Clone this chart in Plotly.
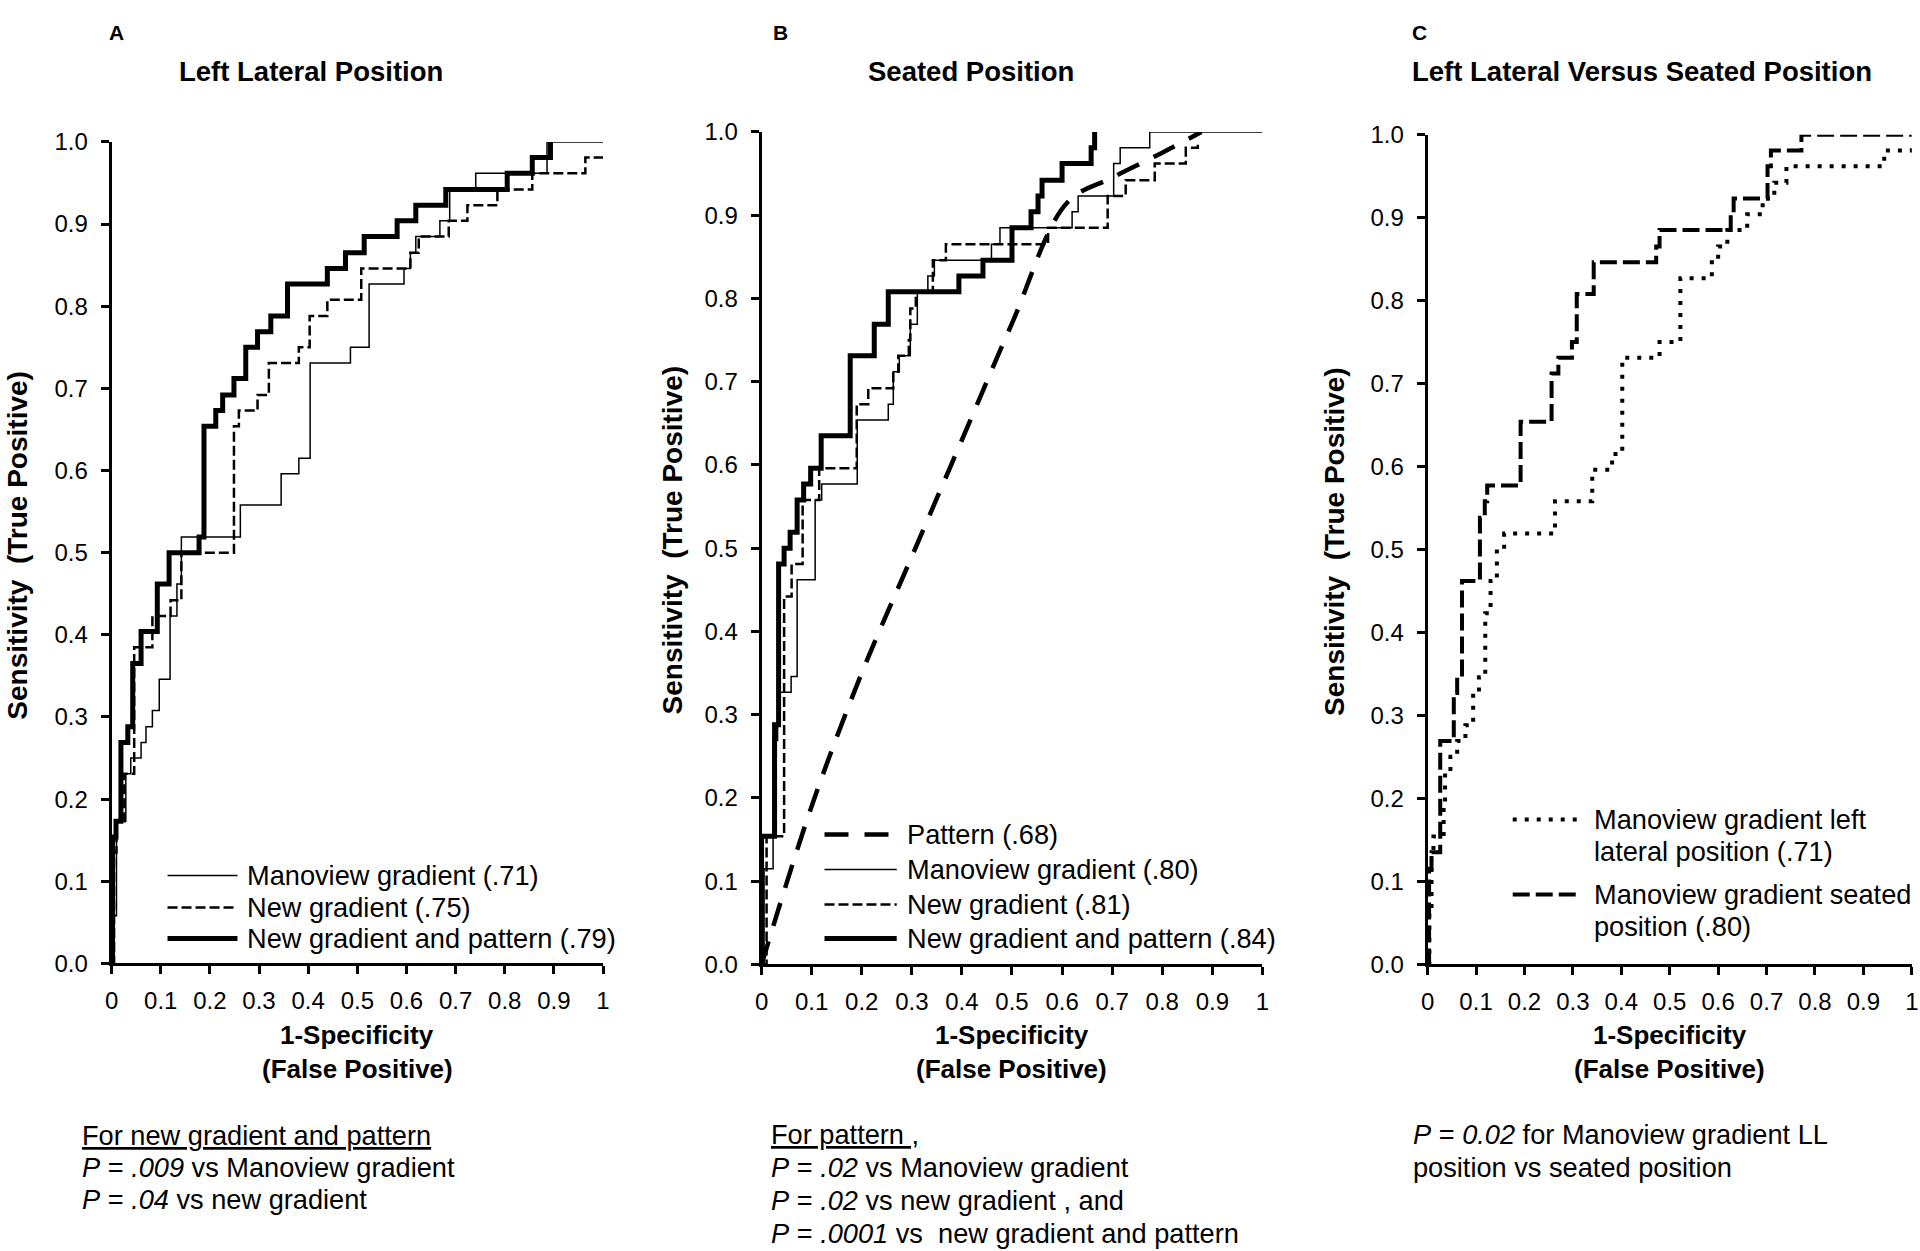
import plotly.graph_objects as go

FONT = "Liberation Sans, Arial, sans-serif"
W, H = 1920, 1251

# ---- tick labels ----
tick_vals = [0, 0.1, 0.2, 0.3, 0.4, 0.5, 0.6, 0.7, 0.8, 0.9, 1.0]
y_tick_text = ["0.0", "0.1", "0.2", "0.3", "0.4", "0.5", "0.6", "0.7", "0.8", "0.9", "1.0"]
x_tick_text = ["0", "0.1", "0.2", "0.3", "0.4", "0.5", "0.6", "0.7", "0.8", "0.9", "1"]

# ---- panel A: left lateral position (step ROC points, right-then-up) ----
a_mano_fpr = [0, 0.002, 0.01, 0.029, 0.039, 0.06, 0.07, 0.083, 0.097, 0.119, 0.133, 0.142,
              0.262, 0.345, 0.381, 0.404, 0.486, 0.524, 0.595, 0.608, 0.619, 0.668, 0.688,
              0.741, 0.886, 1.0]
a_mano_tpr = [0, 0.058, 0.173, 0.231, 0.25, 0.269, 0.288, 0.308, 0.346, 0.423, 0.462, 0.519,
              0.558, 0.596, 0.615, 0.731, 0.75, 0.827, 0.846, 0.865, 0.885, 0.904, 0.942,
              0.962, 1.0, 1.0]

a_new_fpr = [0, 0.005, 0.01, 0.026, 0.046, 0.083, 0.12, 0.142, 0.249, 0.259, 0.297, 0.32,
             0.381, 0.403, 0.439, 0.508, 0.608, 0.625, 0.686, 0.724, 0.785, 0.856, 0.964, 1.0]
a_new_tpr = [0, 0.135, 0.173, 0.231, 0.385, 0.423, 0.442, 0.5, 0.654, 0.673, 0.692, 0.731,
             0.75, 0.788, 0.808, 0.846, 0.865, 0.885, 0.904, 0.923, 0.942, 0.962, 0.981, 0.981]

a_combo_fpr = [0, 0.002, 0.009, 0.019, 0.033, 0.043, 0.06, 0.093, 0.117, 0.178, 0.188, 0.212,
               0.226, 0.249, 0.273, 0.297, 0.324, 0.358, 0.439, 0.476, 0.514, 0.581, 0.619,
               0.68, 0.805, 0.856, 0.893]
a_combo_tpr = [0, 0.154, 0.173, 0.269, 0.288, 0.365, 0.404, 0.462, 0.5, 0.519, 0.654, 0.673,
               0.692, 0.712, 0.75, 0.769, 0.788, 0.827, 0.846, 0.865, 0.885, 0.904, 0.923,
               0.942, 0.962, 0.981, 1.0]

# ---- panel B: seated position ----
b_pattern_fpr = [0, 0.1, 0.2, 0.3, 0.4, 0.5, 0.61, 0.7, 0.8, 0.878]
b_pattern_tpr = [0, 0.19, 0.35, 0.49, 0.63, 0.77, 0.915, 0.945, 0.975, 1.0]

b_mano_fpr = [0, 0.005, 0.023, 0.032, 0.059, 0.071, 0.107, 0.12, 0.191, 0.253, 0.263, 0.275,
              0.297, 0.311, 0.332, 0.345, 0.459, 0.476, 0.62, 0.632, 0.703, 0.716, 0.775, 1.0]
b_mano_tpr = [0, 0.115, 0.269, 0.327, 0.346, 0.462, 0.558, 0.577, 0.654, 0.673, 0.712, 0.731,
              0.769, 0.808, 0.827, 0.846, 0.865, 0.885, 0.904, 0.923, 0.962, 0.981, 1.0, 1.0]

b_new_fpr = [0, 0.01, 0.045, 0.06, 0.082, 0.115, 0.19, 0.213, 0.263, 0.273, 0.294, 0.297,
             0.308, 0.342, 0.368, 0.572, 0.691, 0.727, 0.785, 0.847, 0.871]
b_new_tpr = [0, 0.154, 0.442, 0.481, 0.558, 0.596, 0.673, 0.692, 0.712, 0.731, 0.75, 0.788,
             0.808, 0.846, 0.865, 0.885, 0.923, 0.942, 0.962, 0.981, 0.985]

b_combo_fpr = [0, 0, 0.026, 0.034, 0.045, 0.057, 0.071, 0.084, 0.098, 0.119, 0.177, 0.225,
               0.253, 0.394, 0.442, 0.5, 0.538, 0.552, 0.56, 0.6, 0.658, 0.665]
b_combo_tpr = [0, 0.154, 0.288, 0.481, 0.5, 0.519, 0.558, 0.577, 0.596, 0.635, 0.731, 0.769,
               0.808, 0.827, 0.846, 0.885, 0.904, 0.923, 0.942, 0.962, 0.981, 1.0]

# ---- panel C: left lateral vs seated (Manoview gradient) ----
c_ll_fpr = [0, 0.0035, 0.008, 0.012, 0.033, 0.036, 0.047, 0.061, 0.078, 0.094, 0.106, 0.119,
            0.13, 0.143, 0.158, 0.263, 0.34, 0.381, 0.402, 0.479, 0.522, 0.587, 0.6, 0.619,
            0.66, 0.692, 0.716, 0.741, 0.943, 1.0]
c_ll_tpr = [0, 0.065, 0.135, 0.154, 0.192, 0.231, 0.25, 0.269, 0.288, 0.327, 0.346, 0.423,
            0.462, 0.5, 0.519, 0.558, 0.596, 0.615, 0.731, 0.75, 0.827, 0.846, 0.865, 0.885,
            0.904, 0.923, 0.942, 0.962, 0.981, 0.99]

c_seated_fpr = [0, 0.003, 0.008, 0.026, 0.054, 0.061, 0.071, 0.108, 0.118, 0.123, 0.192, 0.256,
                0.27, 0.298, 0.308, 0.343, 0.472, 0.479, 0.626, 0.632, 0.702, 0.709, 0.772, 1.0]
c_seated_tpr = [0, 0.115, 0.135, 0.269, 0.327, 0.346, 0.462, 0.538, 0.558, 0.577, 0.654, 0.712,
                0.731, 0.75, 0.808, 0.846, 0.865, 0.885, 0.904, 0.923, 0.962, 0.981, 1.0, 1.0]

# ---- line styles ----
THIN = dict(color="black", width=1.5)
DASH = dict(color="black", width=2.5, dash="10px,4px")
THICK = dict(color="black", width=5)
LONGDASH = dict(color="black", width=4.5, dash="24px,16px")
DOTS = dict(color="black", width=4, dash="4px,8px")
SEATED = dict(color="black", width=4, dash="17px,6px")

# the captured page comes out a little inset and shrunk; positions below are the ones
# measured on the target, so map them back into paper coordinates
OX, SX = 6, 0.9938
OY, SY = 12, 0.979


def px(x):
    return (x - OX) / SX / W


def py(y):
    return 1 - (y - OY) / SY / H


fig = go.Figure()


def add_curve(fpr, tpr, line, axis, shape="hv"):
    fig.add_trace(go.Scatter(x=fpr, y=tpr, mode="lines", line=dict(shape=shape, **line),
                             xaxis="x" + axis, yaxis="y" + axis, showlegend=False,
                             hoverinfo="skip"))


add_curve(a_mano_fpr, a_mano_tpr, THIN, "")
add_curve(a_new_fpr, a_new_tpr, DASH, "")
add_curve(a_combo_fpr, a_combo_tpr, THICK, "")

add_curve(b_pattern_fpr, b_pattern_tpr, LONGDASH, "2", shape="spline")
add_curve(b_mano_fpr, b_mano_tpr, THIN, "2")
add_curve(b_new_fpr, b_new_tpr, DASH, "2")
add_curve(b_combo_fpr, b_combo_tpr, THICK, "2")

add_curve(c_ll_fpr, c_ll_tpr, DOTS, "3")
add_curve(c_seated_fpr, c_seated_tpr, SEATED, "3")

# panel boxes in pixels: (left, right, top, bottom)
panels = {
    "": (110.7, 602.7, 140, 962),
    "2": (761.4, 1262.8, 130, 963),
    "3": (1428.2, 1912.9, 132.7, 962.7),
}

axis_common = dict(range=[0, 1], showgrid=False, zeroline=False, showline=True,
                   linecolor="black", linewidth=3, ticks="outside", ticklen=8,
                   tickwidth=2.5, tickcolor="black", tickvals=tick_vals,
                   tickfont=dict(family=FONT, size=24, color="black"), fixedrange=True)

layout_axes = {}
for k, (l, r, t, b) in panels.items():
    layout_axes["xaxis" + k] = dict(axis_common, domain=[px(l), px(r)], anchor="y" + k,
                                    ticktext=x_tick_text, ticklabelstandoff=6)
    layout_axes["yaxis" + k] = dict(axis_common, domain=[py(b), py(t)], anchor="x" + k,
                                    ticktext=y_tick_text, ticklabelstandoff=8)

ann = []


def text(x, y, s, size=27.2, bold=False, xanchor="left", angle=0):
    if bold:
        s = "<b>" + s + "</b>"
    ann.append(dict(x=px(x), y=py(y), xref="paper", yref="paper", text=s, showarrow=False,
                    xanchor=xanchor, yanchor="middle", textangle=angle,
                    font=dict(family=FONT, size=size, color="black")))


# panel letters and titles
text(116, 31, "A", size=21, bold=True, xanchor="center")
text(780, 31, "B", size=21, bold=True, xanchor="center")
text(1420, 31, "C", size=21, bold=True, xanchor="center")
text(310, 70, "Left Lateral Position", size=27.5, bold=True, xanchor="center")
text(971, 70, "Seated Position", size=27.5, bold=True, xanchor="center")
text(1643, 70, "Left Lateral Versus Seated Position", size=27.5, bold=True, xanchor="center")

# axis titles
for k, (l, r, t, b) in panels.items():
    cx = (l + r) / 2
    text(cx, 1034, "1-Specificity", size=26, bold=True, xanchor="center")
    text(cx, 1068, "(False Positive)", size=26, bold=True, xanchor="center")
for xx, k in [(17, ""), (672, "2"), (1335, "3")]:
    l, r, t, b = panels[k]
    text(xx, (t + b) / 2 - 8, "Sensitivity  (True Positive)", size=28, bold=True,
         xanchor="center", angle=-90)

# legends (drawn by hand, like the original)
shapes = []


def legend_row(x0, x1, y, line, label):
    shapes.append(dict(type="line", xref="paper", yref="paper", x0=px(x0), x1=px(x1),
                       y0=py(y), y1=py(y), line=line))
    if label:
        text(x1 + 8, y, label)


legend_row(166.7, 236.7, 874, THIN, "Manoview gradient (.71)")
legend_row(166.7, 236.7, 906, DASH, "New gradient (.75)")
legend_row(166.7, 236.7, 937, THICK, "New gradient and pattern (.79)")

legend_row(824.4, 896.7, 833, LONGDASH, "Pattern (.68)")
legend_row(824.4, 896.7, 868, THIN, "Manoview gradient (.80)")
legend_row(824.4, 896.7, 903, DASH, "New gradient (.81)")
legend_row(824.4, 896.7, 937, THICK, "New gradient and pattern (.84)")

legend_row(1513.4, 1577.6, 818, DOTS, None)
text(1593, 818, "Manoview gradient left")
text(1593, 850, "lateral position (.71)")
legend_row(1513.4, 1577.6, 893, SEATED, None)
text(1593, 893, "Manoview gradient seated")
text(1593, 925, "position (.80)")

# p-value notes under each panel
UL = '<span style="text-decoration:underline">%s</span>'
text(79, 1134, UL % "For new gradient and pattern")
text(79, 1166, "<i>P</i> = <i>.009</i> vs Manoview gradient")
text(79, 1198, "<i>P</i> = <i>.04</i> vs new gradient")

text(769, 1133, UL % "For pattern ,")
text(769, 1166, "<i>P</i> = <i>.02</i> vs Manoview gradient")
text(769, 1199, "<i>P</i> = <i>.02</i> vs new gradient , and")
text(769, 1232, "<i>P</i> = <i>.0001</i> vs  new gradient and pattern")

text(1412, 1133, "<i>P</i> = <i>0.02</i> for Manoview gradient LL")
text(1412, 1166, "position vs seated position")

fig.update_layout(width=W, height=H, margin=dict(l=0, r=0, t=0, b=0),
                  paper_bgcolor="white", plot_bgcolor="white", showlegend=False,
                  annotations=ann, shapes=shapes, **layout_axes)

fig.write_html("out.html", config={"displayModeBar": False},
               post_script="document.documentElement.style.margin='0';"
                           "document.body.style.margin='0';"
                           "document.body.style.overflow='hidden';")
